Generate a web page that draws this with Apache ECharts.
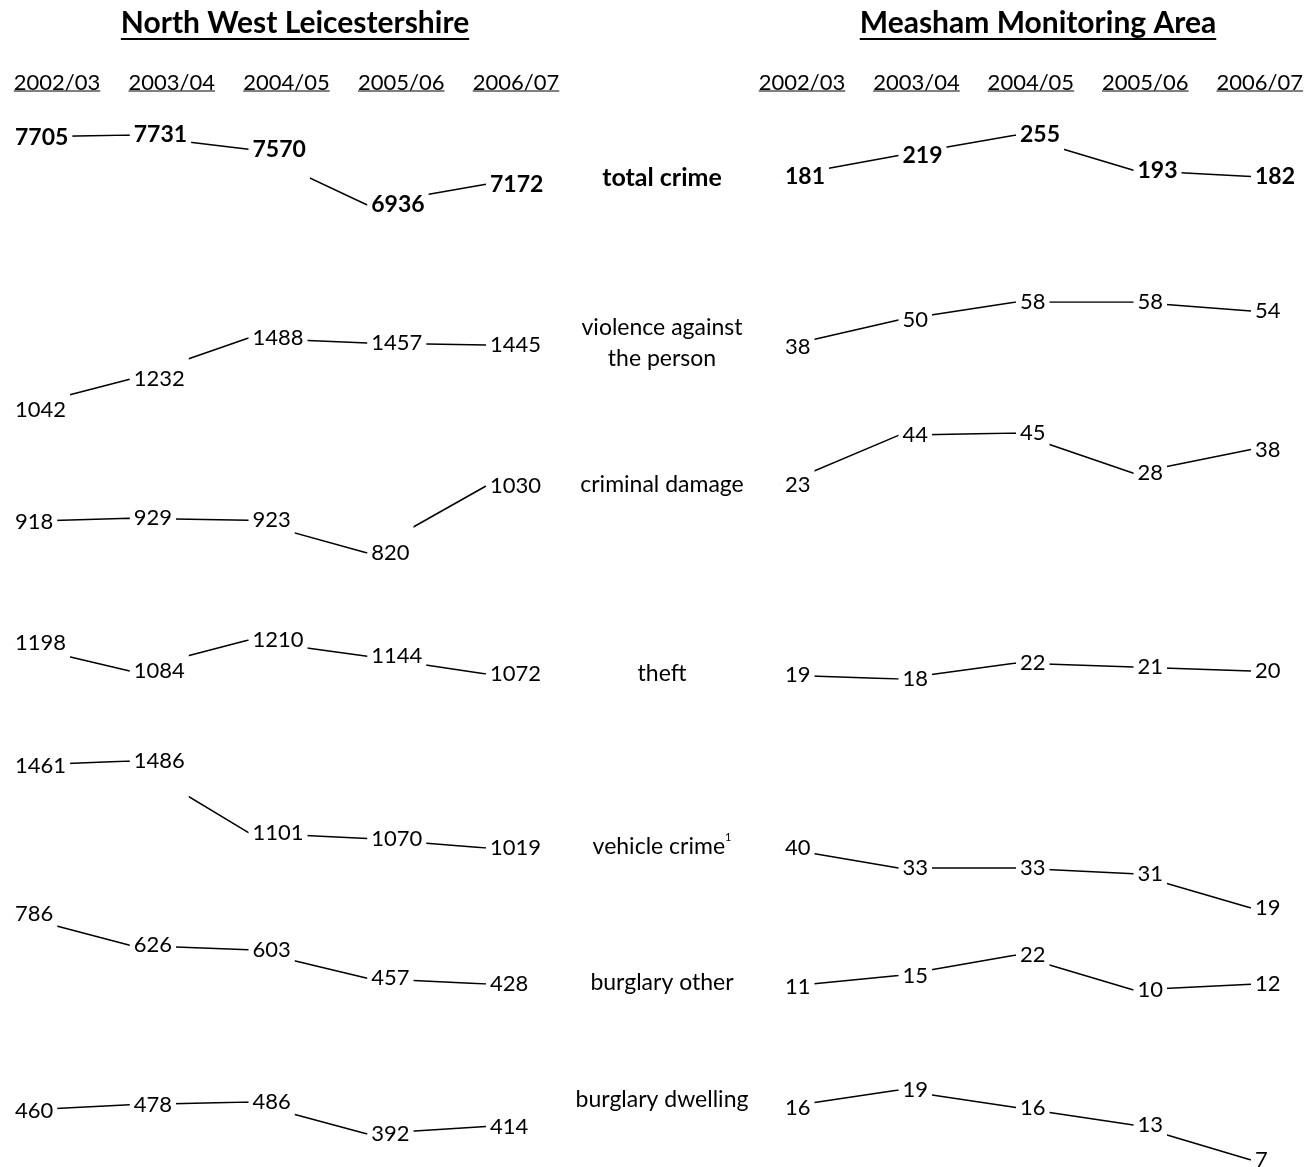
<!DOCTYPE html>
<html><head><meta charset="utf-8">
<script src="https://cdn.jsdelivr.net/npm/echarts@6/dist/echarts.min.js"></script>
<style>html,body{margin:0;padding:0;background:#fff}#c{width:1306px;height:1167px}</style>
</head><body><div id="c"></div>
<script>
// ---- data ----
const years = ['2002/03','2003/04','2004/05','2005/06','2006/07'];
const panelTitles = ['North West Leicestershire','Measham Monitoring Area'];
const categories = ['total crime','violence against\nthe person','criminal damage','theft','vehicle crime{sup|1}','burglary other','burglary dwelling'];

const nwlTotal        = [7705,7731,7570,6936,7172];
const nwlViolence     = [1042,1232,1488,1457,1445];
const nwlDamage       = [918,929,923,820,1030];
const nwlTheft        = [1198,1084,1210,1144,1072];
const nwlVehicle      = [1461,1486,1101,1070,1019];
const nwlBurgOther    = [786,626,603,457,428];
const nwlBurgDwelling = [460,478,486,392,414];

const meaTotal        = [181,219,255,193,182];
const meaViolence     = [38,50,58,58,54];
const meaDamage       = [23,44,45,28,38];
const meaTheft        = [19,18,22,21,20];
const meaVehicle      = [40,33,33,31,19];
const meaBurgOther    = [11,15,22,10,12];
const meaBurgDwelling = [16,19,16,13,7];

const nwlRows = [nwlTotal,nwlViolence,nwlDamage,nwlTheft,nwlVehicle,nwlBurgOther,nwlBurgDwelling];
const meaRows = [meaTotal,meaViolence,meaDamage,meaTheft,meaVehicle,meaBurgOther,meaBurgDwelling];

// ---- layout ----
const FONT = 'Lato';
const W = 1306;
const nwlBands = [[135,205],[338,410],[486,553],[640,674],[761,848],[914,984],[1102,1134]];
const meaBands = [[135,177],[302,347],[433,485],[663,679],[848,908],[955,990],[1090,1160]];
const panels = [
  {rows: nwlRows, bands: nwlBands, left: 11, right: W - 486, headL: 57, headR: W - 516, titleX: 295},
  {rows: meaRows, bands: meaBands, left: 781, right: W - 1251, headL: 802, headR: W - 1261, titleX: 1038}
];
const rowLabelY = [178, 343, 485, 674, 847, 983, 1100];

const grids = [], xAxes = [], yAxes = [], series = [];
panels.forEach((p, pi) => {
  p.rows.forEach((vals, ri) => {
    const idx = grids.length;
    const band = p.bands[ri];
    grids.push({left: p.left, right: p.right, top: band[0], height: band[1] - band[0], containLabel: false});
    xAxes.push({type: 'category', gridIndex: idx, data: years, boundaryGap: false, show: false});
    yAxes.push({type: 'value', gridIndex: idx, min: Math.min(...vals), max: Math.max(...vals), show: false, scale: true});
    series.push({
      type: 'line', xAxisIndex: idx, yAxisIndex: idx, data: vals,
      symbol: 'circle', symbolSize: 0, itemStyle: {color: 'rgba(0,0,0,0)', borderWidth: 0},
      lineStyle: {color: '#000', width: 1.5}, silent: true, animation: false,
      label: {
        show: true, position: 'right', distance: 0,
        padding: [28, 4, 28, 4], backgroundColor: '#fff',
        color: '#000', fontFamily: FONT,
        fontSize: ri === 0 ? 23 : 22,
        fontWeight: ri === 0 ? 'bold' : 'normal'
      }
    });
  });
});
// header grids (year tick labels)
panels.forEach((p) => {
  const idx = grids.length;
  grids.push({left: p.headL, right: p.headR, top: 40, height: 30});
  xAxes.push({type: 'category', gridIndex: idx, data: years, boundaryGap: false,
    axisLine: {show: false}, axisTick: {show: false},
    axisLabel: {color: '#000', fontFamily: FONT, fontSize: 22, margin: 2, verticalAlign: 'top', interval: 0}});
  yAxes.push({type: 'value', gridIndex: idx, show: false});
});

const TITLE_FONT = 'bold 30px ' + FONT;
const graphic = [];
panelTitles.forEach((t, i) => {
  graphic.push({type: 'text', x: panels[i].titleX, y: 23,
    style: {text: t, fill: '#000', font: TITLE_FONT, textAlign: 'center', textVerticalAlign: 'middle'}});
});
categories.forEach((c, i) => {
  graphic.push({type: 'text', x: 662, y: rowLabelY[i],
    style: {text: c, fill: '#000', fontFamily: FONT, fontSize: i === 0 ? 25 : 23, fontWeight: i === 0 ? 'bold' : 'normal',
      lineHeight: 31, align: 'center', verticalAlign: 'middle',
      rich: {sup: {fontSize: 11, fontFamily: FONT, verticalAlign: 'top', lineHeight: 26}}}});
});

const chart = echarts.init(document.getElementById('c'), null, {renderer: 'canvas'});
chart.setOption({backgroundColor: '#fff', animation: false, grid: grids, xAxis: xAxes, yAxis: yAxes, series: series, graphic: graphic});

// underlines for titles and year headers
const ctx = document.createElement('canvas').getContext('2d');
function tw(str, font) { ctx.font = font; return ctx.measureText(str).width; }
const lines = [];
panelTitles.forEach((t, i) => {
  const w = tw(t, TITLE_FONT);
  const x = panels[i].titleX;
  lines.push({type: 'line', shape: {x1: x - w / 2, y1: 39, x2: x + w / 2, y2: 39}, style: {stroke: '#000', lineWidth: 2}});
});
const nRows = nwlRows.length;
[2 * nRows, 2 * nRows + 1].forEach((axisIdx) => {
  years.forEach((y) => {
    const px = chart.convertToPixel({xAxisIndex: axisIdx}, y);
    const w = tw(y, '22px ' + FONT);
    lines.push({type: 'line', shape: {x1: px - w / 2, y1: 91, x2: px + w / 2, y2: 91}, style: {stroke: '#000', lineWidth: 1}});
  });
});
chart.setOption({graphic: graphic.concat(lines)});
</script></body></html>
